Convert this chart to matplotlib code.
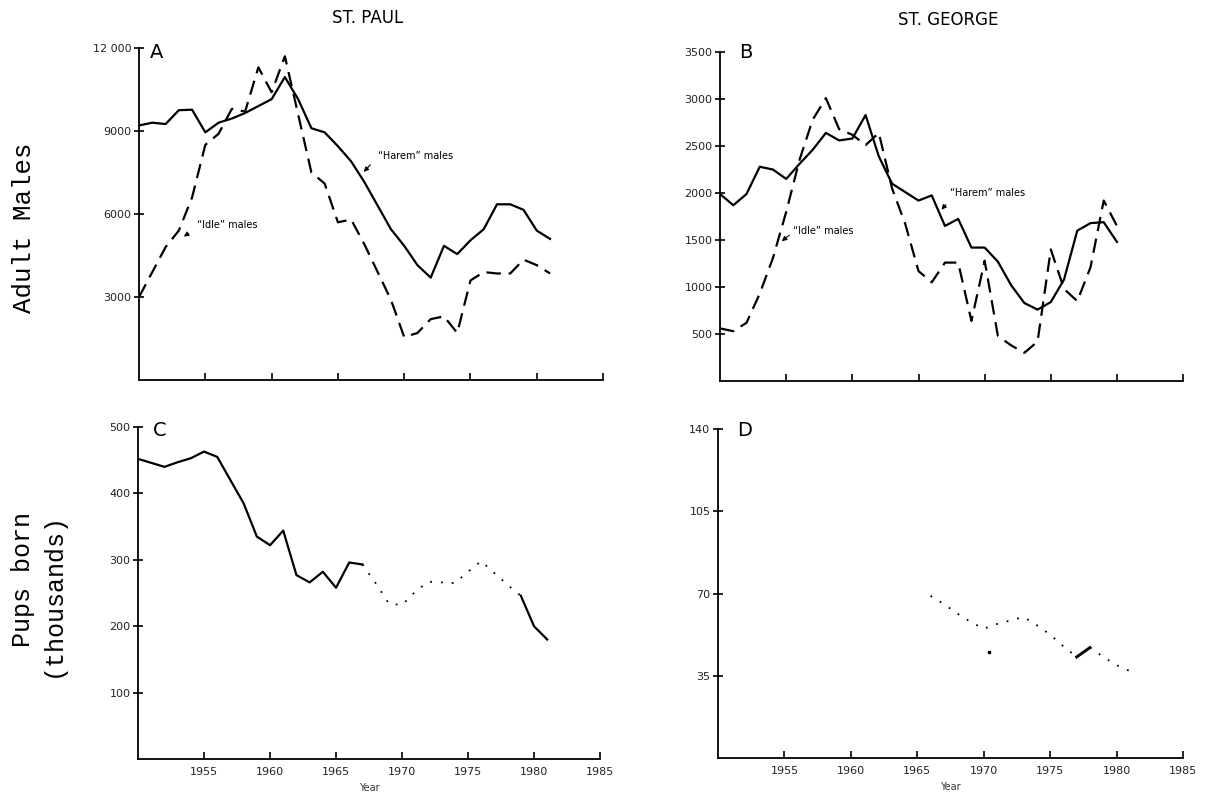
import matplotlib
matplotlib.use("Agg")
import matplotlib.pyplot as plt
import numpy as np

# St. Paul adult males (panel A), 1950-1981
a_years = list(range(1950, 1982))
a_harem = [9200, 9300, 9250, 9750, 9770, 8950, 9300, 9450, 9650, 9900, 10150,
           10950, 10150, 9100, 8950, 8450, 7900, 7150, 6300, 5450, 4850, 4150,
           3700, 4850, 4550, 5050, 5450, 6350, 6350, 6150, 5400, 5100]
a_idle = [3000, 3900, 4800, 5400, 6600, 8500, 8900, 9800, 9700, 11300, 10400,
          11700, 9600, 7500, 7100, 5700, 5800, 4900, 3900, 2900, 1550, 1700,
          2200, 2300, 1700, 3600, 3900, 3850, 3850, 4350, 4150, 3850]

# St. George adult males (panel B), 1950-1980
b_years = list(range(1950, 1981))
b_harem = [1990, 1870, 1990, 2280, 2250, 2150, 2310, 2460, 2640, 2560, 2580,
           2830, 2390, 2100, 2010, 1920, 1975, 1650, 1725, 1420, 1420, 1270,
           1020, 830, 760, 840, 1080, 1600, 1680, 1690, 1480]
b_idle = [560, 530, 620, 930, 1310, 1800, 2350, 2780, 3010, 2680, 2620,
          2510, 2640, 2050, 1670, 1170, 1050, 1260, 1260, 640, 1280, 480,
          380, 300, 420, 1400, 980, 850, 1210, 1920, 1650]

# St. Paul pups born, thousands (panel C)
c_years_solid1 = list(range(1950, 1968))
c_solid1 = [452, 446, 440, 447, 453, 463, 455, 420, 385, 335, 322, 344, 277,
            266, 282, 258, 296, 293]
c_years_dot = list(range(1967, 1980))
c_dot = [293, 265, 234, 232, 252, 267, 266, 265, 282, 298, 280, 262, 246]
c_years_solid2 = [1979, 1980, 1981]
c_solid2 = [246, 200, 180]

# St. George pups born, thousands (panel D)
d_years_dot1 = list(range(1966, 1978))
d_dot1 = [69, 65.5, 61.5, 58, 55, 57, 58.5, 60, 56.5, 52.5, 47.5, 43]
d_years_solid = [1977, 1978]
d_solid = [43, 47]
d_years_dot2 = [1978, 1979, 1980, 1981]
d_dot2 = [47, 43, 39.5, 37]
d_extra_year = [1970.4]
d_extra = [45]

x_ticks = [1955, 1960, 1965, 1970, 1975, 1980, 1985]

dash = (0, (6.5, 3.5))
dot = (0, (1, 5))
lw = 1.6

fig = plt.figure(figsize=(12.25, 8.01), dpi=100)
axA = fig.add_axes([0.1135, 0.5256, 0.3788, 0.4145])
axB = fig.add_axes([0.5878, 0.5243, 0.3780, 0.4107])
axC = fig.add_axes([0.1127, 0.0524, 0.3771, 0.4145])
axD = fig.add_axes([0.5861, 0.0537, 0.3796, 0.4107])


def style(ax, ymax, yticks, ylabels, show_x):
    ax.set_xlim(1950, 1985)
    ax.set_ylim(0, ymax)
    for s in ["top", "right"]:
        ax.spines[s].set_visible(False)
    for s in ["left", "bottom"]:
        ax.spines[s].set_linewidth(1.3)
    ax.set_xticks(x_ticks)
    ax.set_yticks(yticks)
    ax.set_yticklabels(ylabels, fontsize=8, color="#222222")
    ax.tick_params(axis="x", direction="in", length=5, width=1.2, pad=6)
    ax.tick_params(axis="y", direction="inout", length=7, width=1.2, pad=2)
    if show_x:
        ax.set_xticklabels([str(t) for t in x_ticks], fontsize=8, color="#222222")
        ax.set_xlabel("Year", fontsize=7, labelpad=4, color="#333333")
    else:
        ax.set_xticklabels([])


style(axA, 12000, [3000, 6000, 9000, 12000], ["3000", "6000", "9000", "12 000"], False)
style(axB, 3500, [500, 1000, 1500, 2000, 2500, 3000, 3500],
      ["500", "1000", "1500", "2000", "2500", "3000", "3500"], False)
style(axC, 500, [100, 200, 300, 400, 500], ["100", "200", "300", "400", "500"], True)
style(axD, 140, [35, 70, 105, 140], ["35", "70", "105", "140"], True)

# panel A
axA.plot(a_years, a_harem, color="black", lw=lw)
axA.plot(a_years, a_idle, color="black", lw=lw, linestyle=dash)
axA.text(1968.0, 8100, "\u201cHarem\u201d males", fontsize=7, va="center", ha="left")
axA.annotate("", xy=(1966.8, 7450), xytext=(1967.6, 7850),
             arrowprops=dict(arrowstyle="-|>", color="black", lw=0.8, mutation_scale=7))
axA.text(1954.4, 5600, "\u201cIdle\u201d males", fontsize=7, va="center", ha="left")
axA.annotate("", xy=(1953.2, 5130), xytext=(1953.9, 5350),
             arrowprops=dict(arrowstyle="-|>", color="black", lw=0.8, mutation_scale=7))

# panel B
axB.plot(b_years, b_harem, color="black", lw=lw)
axB.plot(b_years, b_idle, color="black", lw=lw, linestyle=dash)
axB.text(1967.4, 2000, "\u201cHarem\u201d males", fontsize=7, va="center", ha="left")
axB.annotate("", xy=(1966.6, 1800), xytext=(1967.2, 1900),
             arrowprops=dict(arrowstyle="-|>", color="black", lw=0.8, mutation_scale=7))
axB.text(1955.5, 1600, "\u201cIdle\u201d males", fontsize=7, va="center", ha="left")
axB.annotate("", xy=(1954.5, 1470), xytext=(1955.4, 1570),
             arrowprops=dict(arrowstyle="-|>", color="black", lw=0.8, mutation_scale=7))

# panel C
axC.plot(c_years_solid1, c_solid1, color="black", lw=lw)
axC.plot(c_years_dot, c_dot, color="black", lw=1.3, linestyle=dot)
axC.plot(c_years_solid2, c_solid2, color="black", lw=lw)

# panel D
axD.plot(d_years_dot1, d_dot1, color="black", lw=1.3, linestyle=dot)
axD.plot(d_years_solid, d_solid, color="black", lw=lw + 0.5)
axD.plot(d_years_dot2, d_dot2, color="black", lw=1.3, linestyle=dot)
axD.plot(d_extra_year, d_extra, "s", color="black", markersize=2)

# panel letters
for ax, letter, xf, yf in [(axA, "A", 0.024, 1.015), (axB, "B", 0.041, 1.027),
                           (axC, "C", 0.032, 1.018), (axD, "D", 0.041, 1.024)]:
    ax.text(xf, yf, letter, transform=ax.transAxes, fontsize=14,
            ha="left", va="top", clip_on=False)

# column titles
fig.text(368 / 1225, 1 - 18 / 801, "ST. PAUL", fontsize=12, ha="center", va="center")
fig.text(948 / 1225, 1 - 20 / 801, "ST. GEORGE", fontsize=12, ha="center", va="center")

# row labels
mono = "Liberation Mono"
fig.text(24 / 1225, 1 - 228 / 801, "Adult Males", family=mono, fontsize=18.5,
         rotation=90, ha="center", va="center")
fig.text(23 / 1225, 1 - 512 / 801, "Pups born", family=mono, fontsize=18,
         rotation=90, ha="center", va="top")
fig.text(53 / 1225, 1 - 512 / 801, "(thousands)", family=mono, fontsize=18,
         rotation=90, ha="center", va="top")

fig.savefig("out.png", dpi=100)
